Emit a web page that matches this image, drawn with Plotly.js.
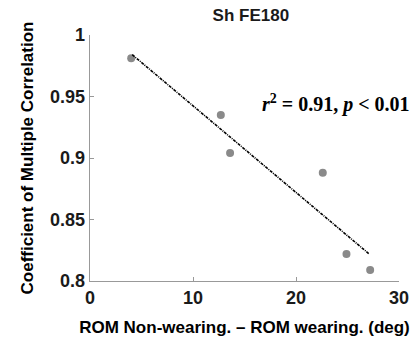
<!DOCTYPE html>
<html>
<head>
<meta charset="utf-8">
<script src="https://cdn.plot.ly/plotly-3.0.1.min.js"></script>
<style>html,body{margin:0;padding:0;background:#fff;}#chart{width:414px;height:341px;}</style>
</head>
<body>
<div id="chart"></div>
<script>
var romDiff = [4.0, 12.7, 13.6, 22.6, 24.9, 27.2];
var cmc = [0.981, 0.935, 0.904, 0.888, 0.822, 0.809];
var fitX = [4.1, 27.1];
var fitY = [0.984, 0.822];
var xTicks = [0, 10, 20, 30];
var yTicks = [0.8, 0.85, 0.9, 0.95, 1];
var yTickText = ['0.8', '0.85', '0.9', '0.95', '1'];

var sans = 'Liberation Sans, Arial, sans-serif';
var axisFont = {family: sans, size: 18, color: '#1a1a1a', weight: 'bold'};
var data = [
  {x: romDiff, y: cmc, mode: 'markers', type: 'scatter',
   marker: {color: '#8a8a8a', size: 8}, showlegend: false, hoverinfo: 'skip'},
  {x: fitX, y: fitY, mode: 'lines', type: 'scatter',
   line: {color: '#000', width: 1.6, dash: '3px,1px,1px,1px'}, showlegend: false, hoverinfo: 'skip'}
];
var layout = {
  width: 414, height: 341,
  margin: {l: 90, r: 15, t: 35, b: 60},
  paper_bgcolor: '#fff', plot_bgcolor: '#fff',
  title: {text: 'Sh FE180', x: 0.606, xanchor: 'center', y: 0.956, yanchor: 'middle',
          font: {family: sans, size: 17, color: '#1a1a1a', weight: 'bold'}},
  xaxis: {range: [0, 30], tickvals: xTicks, ticktext: xTicks.map(String),
          showgrid: false, zeroline: false, showline: true, linecolor: '#999', linewidth: 1.3,
          ticks: 'inside', ticklen: 4, tickcolor: '#999', tickwidth: 1,
          tickfont: axisFont, fixedrange: true,
          title: {text: 'ROM Non-wearing. – ROM wearing. (deg)', standoff: 14,
                  font: {family: sans, size: 17, color: '#000', weight: 'bold'}}},
  yaxis: {range: [0.8, 1], tickvals: yTicks, ticktext: yTickText,
          showgrid: false, zeroline: false, showline: true, linecolor: '#999', linewidth: 1.3,
          ticks: 'inside', ticklen: 4, tickcolor: '#999', tickwidth: 1,
          tickfont: axisFont, fixedrange: true,
          title: {text: 'Coefficient of Multiple Correlation', standoff: 12,
                  font: {family: sans, size: 17, color: '#000', weight: 'bold'}}},
  annotations: [{
    xref: 'paper', yref: 'paper', x: 1.042, y: 0.72, xanchor: 'right', yanchor: 'middle',
    showarrow: false,
    text: '<i>r</i><sup>2</sup> = 0.91, <i>p</i> &lt; 0.01',
    font: {family: 'Liberation Serif, DejaVu Serif, serif', size: 20, color: '#000', weight: 'bold'}
  }]
};
Plotly.newPlot('chart', data, layout, {displayModeBar: false, staticPlot: true});
</script>
</body>
</html>
